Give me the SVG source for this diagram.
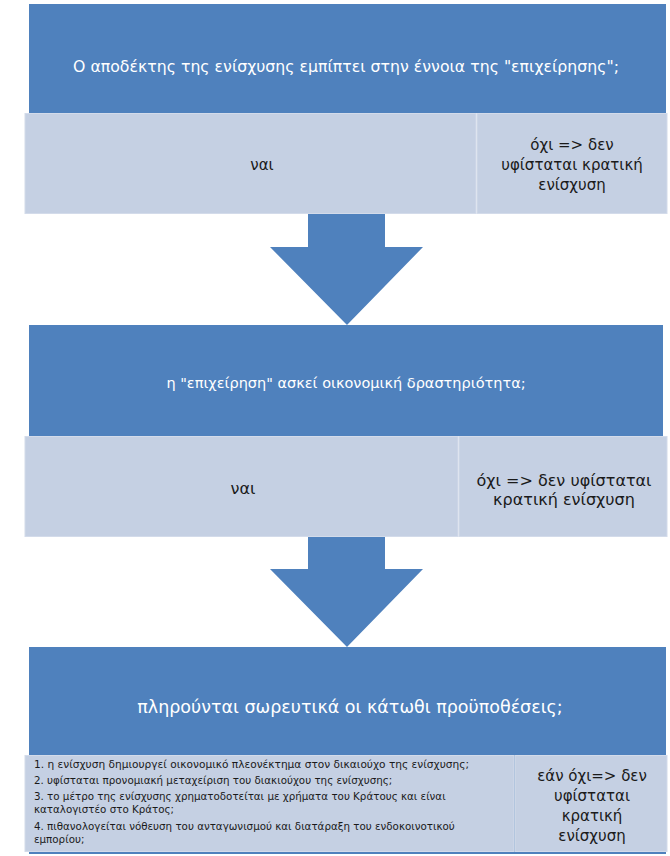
<svg xmlns="http://www.w3.org/2000/svg" width="670" height="856" viewBox="0 0 670 856">
<style>
.blue{fill:#4F81BD}
.cell{fill:#C5D0E3;stroke:#D3DBEA;stroke-width:1}
.t{font-family:"DejaVu Sans",sans-serif;text-anchor:middle}
.w{fill:#FFFFFF}
.k{fill:#1A1A1A}
.s{font-family:"DejaVu Sans",sans-serif;font-size:10.3px;fill:#1A1A1A}
</style>
<rect width="670" height="856" fill="#FFFFFF"/>
<g id="node1">
<rect class="blue" x="29" y="4" width="637" height="109"/>
<text class="t w" x="346" y="72" font-size="15.5" textLength="546" lengthAdjust="spacingAndGlyphs">Ο αποδέκτης της ενίσχυσης εμπίπτει στην έννοια της "επιχείρησης";</text>
</g>
<g id="node1-yes">
<rect class="cell" x="25" y="113.5" width="451" height="100"/>
<text class="t k" x="262" y="170" font-size="15">ναι</text>
</g>
<g id="node1-no">
<rect class="cell" x="477" y="113.5" width="190" height="100"/>
<text class="t k" x="572" y="150" font-size="15">όχι =&gt; δεν</text>
<text class="t k" x="572" y="170" font-size="15">υφίσταται κρατική</text>
<text class="t k" x="572" y="190" font-size="15">ενίσχυση</text>
</g>
<g id="node2">
<rect class="blue" x="29" y="325" width="634" height="111"/>
<text class="t w" x="346" y="388" font-size="14.5">η "επιχείρηση" ασκεί οικονομική δραστηριότητα;</text>
</g>
<g id="node2-yes">
<rect class="cell" x="25" y="436.5" width="433" height="100"/>
<text class="t k" x="243" y="494" font-size="16">ναι</text>
</g>
<g id="node2-no">
<rect class="cell" x="459" y="436.5" width="208" height="100"/>
<text class="t k" x="564" y="486" font-size="16">όχι =&gt; δεν υφίσταται</text>
<text class="t k" x="564" y="505" font-size="16">κρατική ενίσχυση</text>
</g>
<g id="node3">
<rect class="blue" x="29" y="647" width="637" height="207"/>
<text class="t w" x="350" y="713" font-size="17.5">πληρούνται σωρευτικά οι κάτωθι προϋποθέσεις;</text>
</g>
<g id="node3-list">
<rect class="cell" x="25" y="755.5" width="489" height="96"/>
<text class="s" x="34" y="768" textLength="435" lengthAdjust="spacingAndGlyphs">1. η ενίσχυση δημιουργεί οικονομικό πλεονέκτημα στον δικαιούχο της ενίσχυσης;</text>
<text class="s" x="34" y="784">2. υφίσταται προνομιακή μεταχείριση του διακιούχου της ενίσχυσης;</text>
<text class="s" x="34" y="800">3. το μέτρο της ενίσχυσης χρηματοδοτείται με χρήματα του Κράτους και είναι</text>
<text class="s" x="34" y="813">καταλογιστέο στο Κράτος;</text>
<text class="s" x="34" y="830">4. πιθανολογείται νόθευση του ανταγωνισμού και διατάραξη του ενδοκοινοτικού</text>
<text class="s" x="34" y="843">εμπορίου;</text>
</g>
<g id="node3-no">
<rect class="cell" x="515" y="755.5" width="152" height="96"/>
<text class="t k" x="592" y="781" font-size="15">εάν όχι=&gt; δεν</text>
<text class="t k" x="592" y="801" font-size="15">υφίσταται</text>
<text class="t k" x="592" y="821" font-size="15">κρατική</text>
<text class="t k" x="592" y="841" font-size="15">ενίσχυση</text>
</g>
<g id="connectors">
<polygon class="blue" points="308,214 385,214 385,247 423,247 347,325 270,247 308,247"/>
<polygon class="blue" points="308,537 385,537 385,569 423,569 347,647 270,569 308,569"/>
</g>
</svg>
